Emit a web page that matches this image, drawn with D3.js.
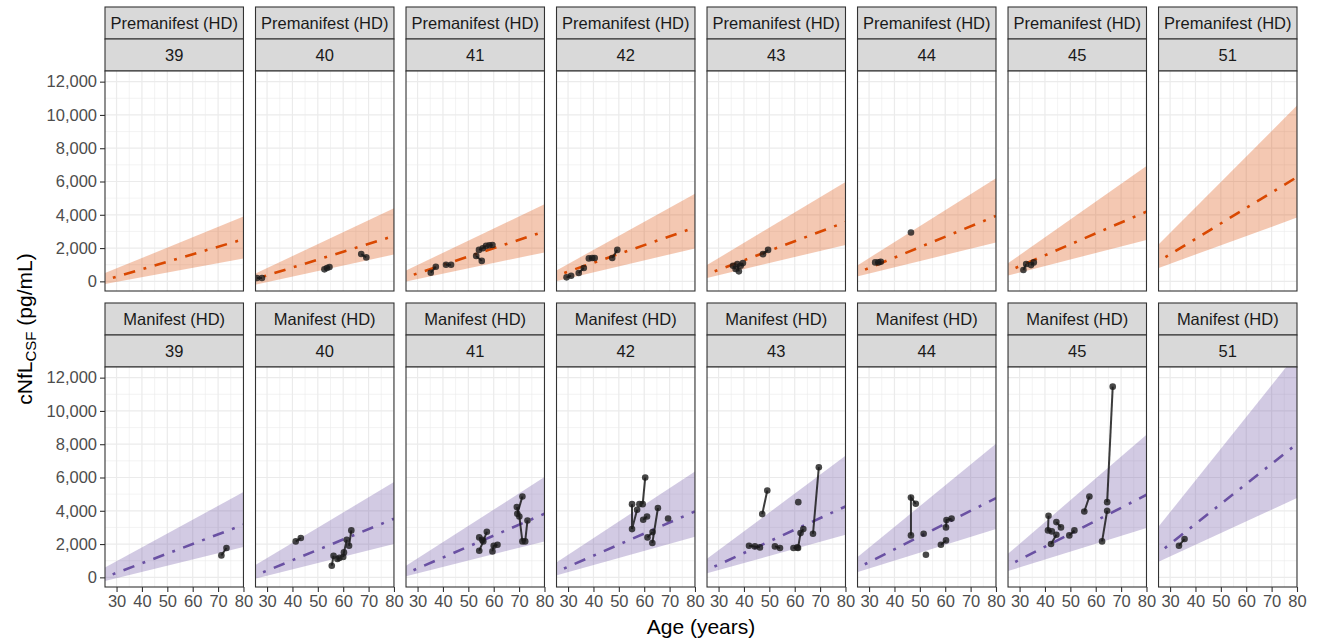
<!DOCTYPE html>
<html>
<head>
<meta charset="utf-8">
<title>cNfL CSF by CAG</title>
<style>
  body { margin: 0; background: #fff; font-family: "Liberation Sans", Arial, sans-serif; }
</style>
</head>
<body>
<svg id="chart"></svg>
<script src="https://d3js.org/d3.v7.min.js"></script>
<script>
const cagLevels = [39, 40, 41, 42, 43, 44, 45, 51];
const stages = ["Premanifest (HD)", "Manifest (HD)"];
const xTicks = [30, 40, 50, 60, 70, 80];
const yTicks = [0, 2000, 4000, 6000, 8000, 10000, 12000];

// fitted trend: value at age 25 and at age 80, one row per CAG level
const fitAges = [25, 80];
const preMid = [[56, 2530], [120, 2730], [226, 3000], [321, 3235], [403, 3560], [490, 3930], [583, 4190], [1158, 6266]];
const preLo = [[-170, 1380], [-220, 1620], [-20, 1740], [0, 1980], [190, 2190], [280, 2336], [330, 2490], [780, 3833]];
const preHi = [[470, 3890], [440, 4390], [620, 4630], [620, 5270], [940, 5970], [920, 6190], [1040, 6930], [2150, 10560]];
const manMid = [[-20, 3162], [94, 3522], [205, 3822], [305, 3960], [414, 4260], [531, 4764], [666, 4962], [1403, 8022]];
const manLo = [[-240, 1824], [-100, 2004], [50, 2160], [100, 2440], [220, 2562], [300, 2904], [360, 2964], [900, 4764]];
const manHi = [[560, 5124], [700, 5724], [650, 6024], [860, 6360], [1060, 7302], [1160, 8022], [1360, 8562], [2960, 13450]];

// observed subjects: [cag, [[age, value], ...]]
const preSubjects = [
  [40, [[26.0, 200], [28.0, 200]]],
  [40, [[52.6, 720], [53.6, 800], [54.6, 860]]],
  [40, [[67.1, 1640], [69.1, 1440]]],
  [41, [[35.2, 520], [37.2, 875]]],
  [41, [[41.2, 994], [43.2, 994]]],
  [41, [[53.1, 1530], [55.3, 1230]]],
  [41, [[54.2, 1890], [55.7, 1990], [57.0, 2130]]],
  [41, [[58.3, 2170], [59.5, 2180]]],
  [42, [[29.4, 240], [31.2, 335]]],
  [42, [[34.2, 500], [36.2, 800]]],
  [42, [[38.2, 1380], [39.5, 1400]]],
  [42, [[40.5, 1400]]],
  [42, [[47.4, 1400], [49.4, 1890]]],
  [43, [[35.7, 935], [36.7, 740]]],
  [43, [[37.4, 1036], [38.0, 600]]],
  [43, [[38.7, 935], [39.6, 1096]]],
  [43, [[47.5, 1635], [49.5, 1890]]],
  [44, [[32.4, 1140], [33.7, 1140], [34.6, 1175]]],
  [44, [[46.5, 2935]]],
  [45, [[31.5, 680], [32.6, 1036]]],
  [45, [[34.5, 976], [35.6, 1138]]]
];
const manSubjects = [
  [39, [[71.3, 1320], [73.3, 1764]]],
  [40, [[41.3, 2160], [43.3, 2364]]],
  [40, [[55.5, 700], [56.2, 1300]]],
  [40, [[57.7, 1100], [58.5, 1170]]],
  [40, [[60.0, 1220], [60.3, 1500], [61.4, 2260]]],
  [40, [[62.3, 1900], [63.2, 2820]]],
  [41, [[54.3, 1600], [55.9, 2160], [57.3, 2740]]],
  [41, [[54.3, 2400], [55.5, 2250]]],
  [41, [[59.5, 1560], [60.0, 1900], [61.5, 1960]]],
  [41, [[69.3, 3820], [71.3, 4860]]],
  [41, [[69.1, 4220], [70.1, 3660], [71.3, 2160]]],
  [41, [[72.4, 2160], [73.3, 3420]]],
  [42, [[55.2, 4400], [55.2, 2900], [57.2, 4060]]],
  [42, [[58.1, 4400]]],
  [42, [[59.4, 4400], [60.4, 6000]]],
  [42, [[59.6, 3460], [61.1, 3660]]],
  [42, [[61.3, 2400], [63.3, 2720]]],
  [42, [[63.2, 2064], [65.4, 4164]]],
  [42, [[69.4, 3540]]],
  [43, [[47.2, 3800], [49.2, 5220]]],
  [43, [[61.4, 4520]]],
  [43, [[67.2, 2620], [69.5, 6620]]],
  [43, [[42.0, 1900], [44.3, 1860], [46.3, 1800]]],
  [43, [[52.2, 1860], [54.2, 1760]]],
  [43, [[59.5, 1760], [61.0, 1800]]],
  [43, [[61.3, 1760], [62.3, 2660], [63.4, 2900]]],
  [44, [[46.5, 2520], [46.5, 4800], [48.4, 4420]]],
  [44, [[51.5, 2620]]],
  [44, [[52.4, 1360]]],
  [44, [[58.3, 1960], [60.3, 2220]]],
  [44, [[60.3, 3000], [60.5, 3440], [62.5, 3530]]],
  [45, [[41.4, 3700], [41.2, 2820], [42.7, 2760]]],
  [45, [[42.4, 2000], [44.5, 2560]]],
  [45, [[44.5, 3320], [46.3, 3000]]],
  [45, [[49.6, 2520], [51.6, 2820]]],
  [45, [[55.5, 3960], [57.5, 4860]]],
  [45, [[62.5, 2160], [64.5, 4000]]],
  [45, [[64.5, 4520], [66.7, 11460]]],
  [51, [[33.5, 1900], [35.7, 2300]]]
];

const width = 1318, height = 641;
const stripH = 32;
const rowTops = [7, 303];
const plotH = 220;

const rows = [
  { stage: stages[0], mid: preMid, lo: preLo, hi: preHi, subjects: preSubjects, line: "#D94801", fill: "#D94801" },
  { stage: stages[1], mid: manMid, lo: manLo, hi: manHi, subjects: manSubjects, line: "#6A51A3", fill: "#6A51A3" }
];

const svg = d3.select("#chart").attr("width", width).attr("height", height);

const col = d3.scaleBand().domain(cagLevels).range([105, 1297]).paddingInner(0.08).paddingOuter(0);
const x = d3.scaleLinear().domain([25.45, 80]).range([0, col.bandwidth()]);
const y = d3.scaleLinear().domain([-580, 12640]).range([plotH, 0]);
const fmt = d3.format(",");

const grey = "#333333";

rows.forEach((row, r) => {
  const plotTop = rowTops[r] + stripH * 2;

  cagLevels.forEach((cag, i) => {
    const g = svg.append("g").attr("transform", `translate(${col(cag)},0)`);
    const bw = col.bandwidth();

    // strips
    [row.stage, String(cag)].forEach((label, k) => {
      const sy = rowTops[r] + k * stripH;
      g.append("rect")
        .attr("x", 0).attr("y", sy).attr("width", bw).attr("height", stripH)
        .attr("fill", "#D9D9D9").attr("stroke", grey).attr("stroke-width", 1.1);
      g.append("text")
        .attr("x", bw / 2).attr("y", sy + stripH / 2).attr("dy", "0.36em")
        .attr("text-anchor", "middle").attr("font-size", 16.5).attr("fill", "#1A1A1A")
        .text(label);
    });

    const p = g.append("g").attr("transform", `translate(0,${plotTop})`);
    const clipId = `clip-${r}-${i}`;
    p.append("clipPath").attr("id", clipId)
      .append("rect").attr("width", bw).attr("height", plotH);

    p.append("rect").attr("width", bw).attr("height", plotH).attr("fill", "#fff");

    const body = p.append("g").attr("clip-path", `url(#${clipId})`);

    // grid
    const minorX = d3.range(35, 80, 10);
    const minorY = d3.range(1000, 12001, 2000);
    body.selectAll(".mx").data(minorX).join("line")
      .attr("x1", d => x(d)).attr("x2", d => x(d)).attr("y1", 0).attr("y2", plotH)
      .attr("stroke", "#EBEBEB").attr("stroke-width", 0.6);
    body.selectAll(".my").data(minorY).join("line")
      .attr("x1", 0).attr("x2", bw).attr("y1", d => y(d)).attr("y2", d => y(d))
      .attr("stroke", "#EBEBEB").attr("stroke-width", 0.6);
    body.selectAll(".gx").data(xTicks).join("line")
      .attr("x1", d => x(d)).attr("x2", d => x(d)).attr("y1", 0).attr("y2", plotH)
      .attr("stroke", "#EBEBEB").attr("stroke-width", 1.2);
    body.selectAll(".gy").data(yTicks).join("line")
      .attr("x1", 0).attr("x2", bw).attr("y1", d => y(d)).attr("y2", d => y(d))
      .attr("stroke", "#EBEBEB").attr("stroke-width", 1.2);

    // ribbon + trend
    const band = fitAges.map((a, j) => ({ age: a, lo: row.lo[i][j], hi: row.hi[i][j], mid: row.mid[i][j] }));
    body.append("path").datum(band)
      .attr("d", d3.area().x(d => x(d.age)).y0(d => y(d.lo)).y1(d => y(d.hi)))
      .attr("fill", row.fill).attr("fill-opacity", 0.3);
    body.append("path").datum(band)
      .attr("d", d3.line().x(d => x(d.age)).y(d => y(d.mid)))
      .attr("fill", "none").attr("stroke", row.line).attr("stroke-width", 2.6)
      .attr("stroke-dasharray", "2.9,8.7,11.6,8.7").attr("stroke-dashoffset", 22.5);

    // subjects
    const subs = row.subjects.filter(s => s[0] === cag).map(s => s[1]);
    body.selectAll(".subj").data(subs.filter(s => s.length > 1)).join("path")
      .attr("d", d3.line().x(d => x(d[0])).y(d => y(d[1])))
      .attr("fill", "none").attr("stroke", "#1A1A1A").attr("stroke-opacity", 0.85).attr("stroke-width", 2);
    body.selectAll(".pt").data(subs.flat()).join("circle")
      .attr("cx", d => x(d[0])).attr("cy", d => y(d[1])).attr("r", 3.3)
      .attr("fill", "#1A1A1A").attr("fill-opacity", 0.8);

    p.append("rect").attr("width", bw).attr("height", plotH)
      .attr("fill", "none").attr("stroke", grey).attr("stroke-width", 1.1);

    // y axis on first column
    if (i === 0) {
      const ya = p.append("g").call(d3.axisLeft(y).tickValues(yTicks).tickFormat(fmt).tickSize(5).tickPadding(3));
      ya.select(".domain").remove();
      ya.selectAll("line").attr("stroke", grey).attr("stroke-width", 1.1);
      ya.selectAll("text").attr("font-size", 16.5).attr("fill", "#4D4D4D")
        .attr("font-family", "'Liberation Sans', Arial, sans-serif");
    }
    // x axis on bottom row
    if (r === 1) {
      const xa = p.append("g").attr("transform", `translate(0,${plotH})`)
        .call(d3.axisBottom(x).tickValues(xTicks).tickSize(5).tickPadding(3));
      xa.select(".domain").remove();
      xa.selectAll("line").attr("stroke", grey).attr("stroke-width", 1.1);
      xa.selectAll("text").attr("font-size", 16.5).attr("fill", "#4D4D4D")
        .attr("font-family", "'Liberation Sans', Arial, sans-serif");
    }
  });
});

// axis titles
svg.append("text")
  .attr("x", (105 + 1297) / 2).attr("y", 634)
  .attr("text-anchor", "middle").attr("font-size", 21).attr("fill", "#000")
  .text("Age (years)");

const yt = svg.append("text")
  .attr("transform", `translate(32,${(71 + 587) / 2}) rotate(-90)`)
  .attr("text-anchor", "middle").attr("font-size", 21).attr("fill", "#000");
yt.append("tspan").text("cNfL");
yt.append("tspan").attr("dy", 4).attr("font-size", 15).text("CSF");
yt.append("tspan").attr("dy", -4).text(" (pg/mL)");
</script>
</body>
</html>
